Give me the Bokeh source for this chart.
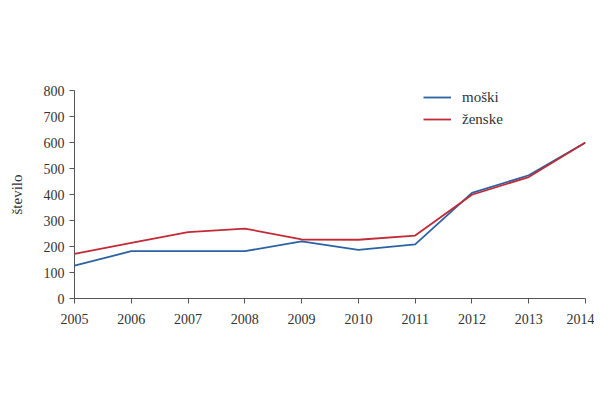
from bokeh.plotting import figure
from bokeh.models import Range1d, Legend, LegendItem, FixedTicker
from bokeh.embed import file_html
from bokeh.resources import INLINE

years = [2005, 2006, 2007, 2008, 2009, 2010, 2011, 2012, 2013, 2014]
moski = [126, 182, 182, 182, 220, 187, 208, 406, 474, 600]
zenske = [172, 214, 255, 269, 227, 226, 242, 399, 467, 600]
y_ticks = [0, 100, 200, 300, 400, 500, 600, 700, 800]

FONT = "Liberation Serif"

p = figure(width=594, height=384, output_backend="svg", toolbar_location=None,
           x_range=Range1d(2005, 2014), y_range=Range1d(0, 800),
           min_border_left=74, min_border_right=9, min_border_top=90, min_border_bottom=86)
p.outline_line_color = None
p.xgrid.grid_line_color = None
p.ygrid.grid_line_color = None

l1 = p.line(years, moski, line_color="#2b62a3", line_width=1.8)
l2 = p.line(years, zenske, line_color="#c22a36", line_width=1.8)

for ax in (p.xaxis[0], p.yaxis[0]):
    ax.axis_line_color = "#555555"
    ax.major_tick_line_color = "#555555"
    ax.major_tick_in = 0
    ax.major_tick_out = 5
    ax.minor_tick_line_color = None
    ax.major_label_text_font = FONT
    ax.major_label_text_font_size = "14px"
    ax.major_label_text_color = "#333333"

p.xaxis.ticker = FixedTicker(ticks=years)
p.yaxis.ticker = FixedTicker(ticks=y_ticks)
p.yaxis.axis_label = "število"
p.yaxis.axis_label_text_font = FONT
p.yaxis.axis_label_text_font_style = "normal"
p.yaxis.axis_label_text_font_size = "15px"
p.yaxis.axis_label_text_color = "#333333"
p.yaxis.axis_label_standoff = 16
p.xaxis.major_label_standoff = 10

legend = Legend(items=[LegendItem(label="moški", renderers=[l1]),
                       LegendItem(label="ženske", renderers=[l2])],
                location=(349, 169))
legend.border_line_color = None
legend.background_fill_alpha = 0
legend.label_text_font = FONT
legend.label_text_font_size = "15px"
legend.label_text_color = "#333333"
legend.glyph_width = 28
legend.label_standoff = 11
legend.spacing = 2
legend.padding = 0
p.add_layout(legend, "center")

open("out.html", "w").write(file_html(p, INLINE))
